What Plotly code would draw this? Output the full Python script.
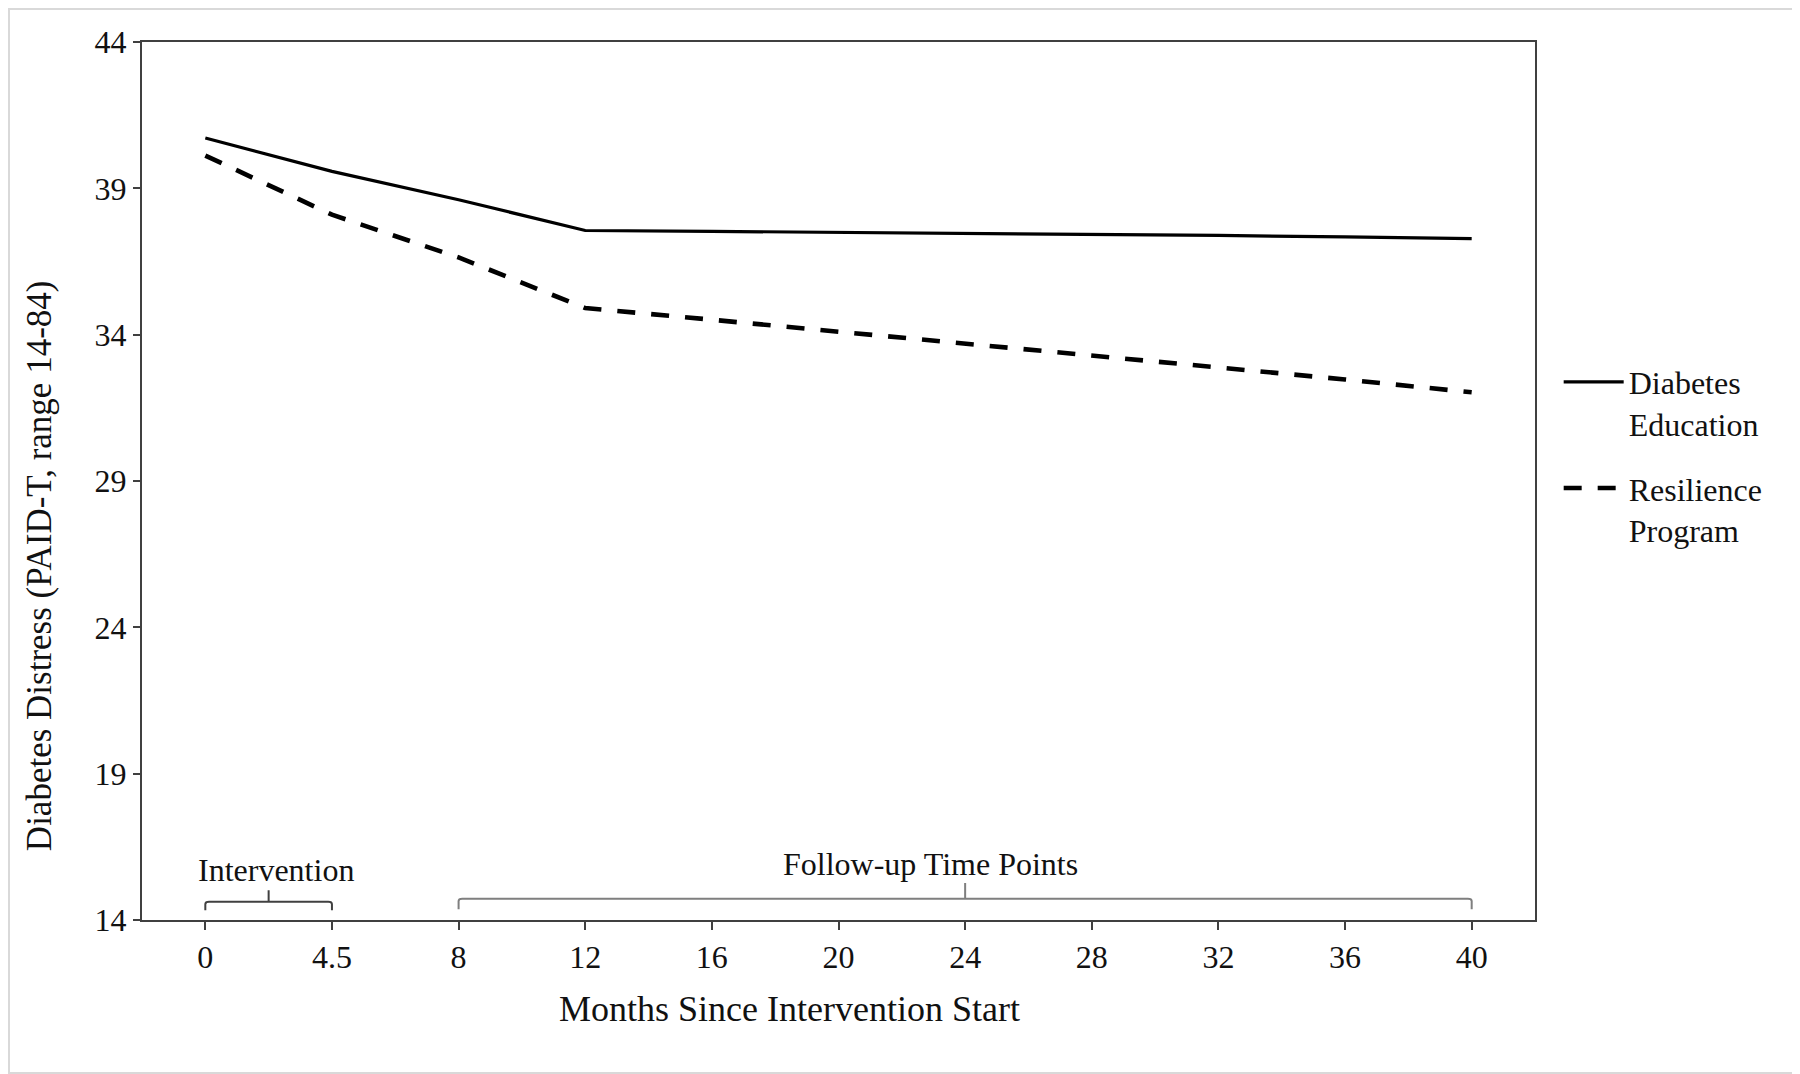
import plotly.graph_objects as go

# ---- data ----
months = ["0", "4.5", "8", "12", "16", "20", "24", "28", "32", "36", "40"]
diabetes_education = [40.72, 39.58, 38.61, 37.56, 37.53, 37.50, 37.47, 37.43, 37.39, 37.34, 37.28]
resilience_program = [40.12, 38.10, 36.64, 34.91, 34.51, 34.10, 33.71, 33.30, 32.90, 32.47, 32.03]
y_ticks = [14, 19, 24, 29, 34, 39, 44]

# bracket groups (category index start, end, centre) and labels
bracket_labels = ["Intervention", "Follow-up Time Points"]
bracket_start = [0, 2]
bracket_end = [1, 10]
bracket_mid = [0.5, 6]
bracket_level = [14.62, 14.73]
bracket_foot = [14.33, 14.37]
bracket_peak = [15.02, 15.26]
label_x = [0.56, 5.73]
label_y = [15.70, 15.92]
bracket_colors = ["#404040", "#7f7f7f"]

FONT = "Liberation Serif, Times New Roman, serif"

fig = go.Figure()
fig.add_trace(go.Scatter(
    x=months, y=diabetes_education, mode="lines", name="Diabetes<br>Education",
    legendgroup="a", line=dict(color="black", width=3.2)))
fig.add_trace(go.Scatter(
    x=months, y=resilience_program, mode="lines", name="Resilience<br>Program",
    legendgroup="b", line=dict(color="black", width=4.6, dash="18px,16px")))

# brackets
for i in range(len(bracket_labels)):
    x0, x1, xm = bracket_start[i], bracket_end[i], bracket_mid[i]
    yl, yf, yp = bracket_level[i], bracket_foot[i], bracket_peak[i]
    dx = 0.03
    dy = 0.08
    path = (f"M {x0},{yf} L {x0},{yl-dy} Q {x0},{yl} {x0+dx},{yl} "
            f"L {x1-dx},{yl} Q {x1},{yl} {x1},{yl-dy} L {x1},{yf} "
            f"M {xm},{yl} L {xm},{yp}")
    fig.add_shape(type="path", path=path, xref="x", yref="y",
                  line=dict(color=bracket_colors[i], width=2))
    fig.add_annotation(x=label_x[i], y=label_y[i], xref="x", yref="y",
                       text=bracket_labels[i], showarrow=False,
                       xanchor="center", yanchor="middle",
                       font=dict(family=FONT, size=32, color="#111111"))

# axis titles as annotations (positioned like the original)
fig.add_annotation(x=0.465, y=-0.101, xref="paper", yref="paper",
                   text="Months Since Intervention Start", showarrow=False,
                   xanchor="center", yanchor="middle",
                   font=dict(family=FONT, size=36, color="#111111"))
fig.add_annotation(x=-0.073, y=0.4034, xref="paper", yref="paper",
                   text="Diabetes Distress (PAID-T, range 14-84)", showarrow=False,
                   textangle=-90, xanchor="center", yanchor="middle",
                   font=dict(family=FONT, size=35, color="#111111"))

# page has an 8px body margin, so the figure is shifted by 8px
W, H = 1792, 1066
L, R, T, B = 134, 265, 34, 154
pw, ph = W - L - R, H - T - B
fig.add_shape(type="rect", xref="paper", yref="paper",
              x0=-(L - 1) / pw, x1=1 + (R - 1) / pw,
              y0=-(B - 1) / ph, y1=1 + (T - 1) / ph,
              line=dict(color="#d9d9d9", width=2), layer="below")

fig.update_layout(
    width=W, height=H,
    margin=dict(l=L, r=R, t=T, b=B, pad=0),
    paper_bgcolor="white", plot_bgcolor="white",
    font=dict(family=FONT, size=32, color="#111111"),
    showlegend=True,
    legend=dict(x=1.017, y=0.644, xanchor="left", yanchor="top",
                font=dict(family=FONT, size=32, color="#111111"),
                valign="top", tracegroupgap=20, itemwidth=60,
                bgcolor="rgba(0,0,0,0)"),
)
fig.update_xaxes(type="category", categoryorder="array", categoryarray=months,
                 range=[-0.5, 10.5], showline=True, linecolor="#404040", linewidth=2,
                 mirror=True, ticks="outside", ticklen=8, tickwidth=1.5,
                 tickcolor="#404040", showgrid=False, zeroline=False,
                 tickfont=dict(family=FONT, size=32, color="#111111"))
fig.update_yaxes(range=[14, 44], tickvals=y_ticks, showline=True, linecolor="#404040",
                 linewidth=2, mirror=True, ticks="outside", ticklen=7, tickwidth=1.5,
                 tickcolor="#404040", showgrid=False, zeroline=False,
                 tickfont=dict(family=FONT, size=32, color="#111111"))

fig.write_html("out.html")
